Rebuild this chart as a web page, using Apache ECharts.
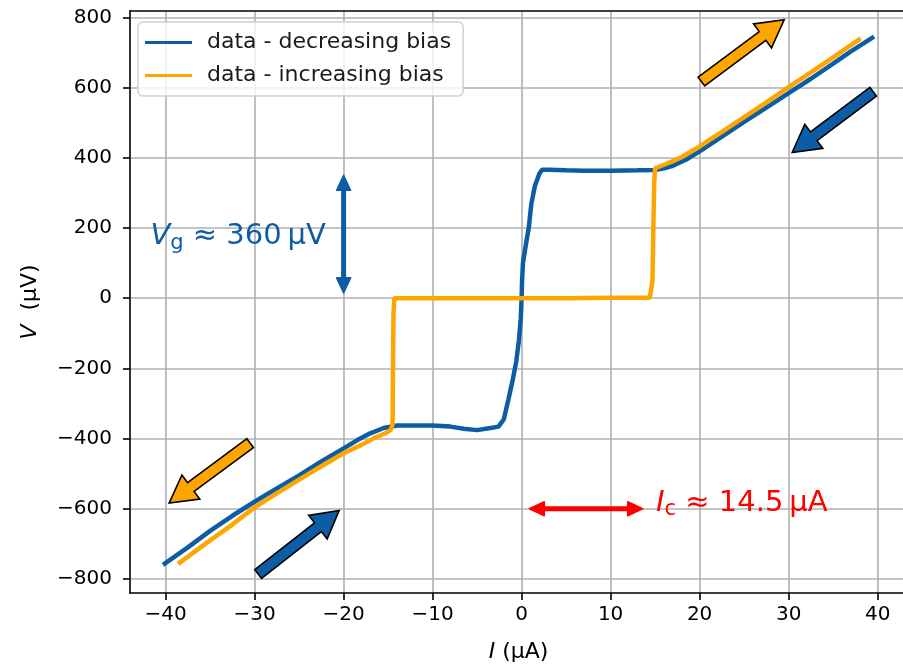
<!DOCTYPE html>
<html>
<head>
<meta charset="utf-8">
<title>I-V hysteresis</title>
<script src="https://cdn.jsdelivr.net/npm/echarts@6/dist/echarts.min.js"></script>
<style>
    html, body { margin: 0; padding: 0; background: #fff; overflow: hidden; }
    #chart { width: 920px; height: 666px; }
</style>
</head>
<body>
<div id="chart"></div>
<script>
// decreasing bias sweep (I in uA, V in uV)
const decreasingI = [39.6, 37, 35, 32.5, 30, 27.5, 25, 22.5, 20, 18.5, 17, 16, 15, 13, 10, 7, 5, 3, 2.3,
    2.0, 1.5, 1.1, 0.8, 0.4, 0.15, 0.05, 0, -0.1, -0.3, -0.6, -1.0, -1.5, -2.0, -2.6, -3.5, -5, -6.5, -8,
    -10, -12, -14, -15.5, -17, -18.5, -20, -22.5, -25, -27.5, -30, -32.5, -35, -37.5, -40.3];
const decreasingV = [745, 703, 668, 625, 584, 543, 502, 460, 418, 395, 377, 370, 365, 364, 363, 363, 364, 366, 366,
    355, 320, 270, 200, 140, 100, 50, 0, -60, -120, -180, -233, -290, -345, -366, -370, -376, -372, -366,
    -363, -363, -363, -370, -385, -405, -428, -465, -505, -542, -580, -620, -663, -710, -760];

// increasing bias sweep
const increasingI = [-38.6, -35, -32.5, -30, -27.5, -25, -22.5, -20, -18, -16.5, -15.3, -14.7, -14.5, -14.45,
    -14.4, -14.3, -10, -5, 0, 5, 10, 14.4, 14.7, 14.8, 14.9, 15.0, 16.5, 18, 20, 22.5, 25, 27.5, 30, 32.5, 35, 38.1];
const increasingV = [-757, -690, -645, -596, -556, -517, -479, -442, -418, -398, -385, -375, -360, -200,
    -50, 0, 0, 0, 0, 0, 1, 1, 50, 200, 330, 370, 385, 402, 432, 474, 516, 558, 601, 643, 686, 740];

const xTicks = [-40, -30, -20, -10, 0, 10, 20, 30, 40];
const yTicks = [-800, -600, -400, -200, 0, 200, 400, 600, 800];

// sweep direction arrows: [tail, tip] in data coordinates
const sweepArrowsOrange = [[[20.2, 617], [29.5, 793]], [[-30.5, -413], [-39.6, -584]]];
const sweepArrowsBlue = [[[39.5, 588], [30.4, 415]], [[-29.6, -786], [-20.5, -605]]];
const gapArrow = [[-20, 350], [-20, 15]];
const currentArrow = [[0.87, -600], [13.6, -600]];
const gapLabelAt = [-22.0, 175];
const currentLabelAt = [15.1, -585];

const FONT = 'DejaVu Sans';
const BLUE = '#0c5da5';
const ORANGE = '#ffa500';
const RED = '#ff0000';

function zip(a, b) {
    return a.map(function (v, i) { return [v, b[i]]; });
}

function tickText(v) {
    return v < 0 ? '\u2212' + (-v) : String(v);
}

const chart = echarts.init(document.getElementById('chart'));

const axisLineStyle = { color: '#000', width: 1.6 };
const mathRich = {
    i: { fontFamily: FONT, fontSize: 22, fontStyle: 'italic', color: '#000' },
    t: { fontFamily: FONT, fontSize: 22, color: '#000' }
};

chart.setOption({
    animation: false,
    grid: { left: 130, top: 11, width: 777, height: 582, outerBoundsMode: 'none' },
    legend: {
        orient: 'vertical',
        left: 138,
        top: 22,
        padding: [8, 12, 8, 7],
        itemGap: 8,
        itemWidth: 47,
        itemHeight: 3,
        icon: 'rect',
        backgroundColor: 'rgba(255,255,255,0.8)',
        borderColor: '#d0d0d0',
        borderWidth: 1.5,
        borderRadius: 5,
        textStyle: { fontFamily: FONT, fontSize: 22, lineHeight: 25, color: '#1a1a1a', padding: [0, 0, 0, 10] },
        data: ['data - decreasing bias', 'data - increasing bias']
    },
    xAxis: [{
        type: 'value',
        min: -44,
        max: 43.3,
        splitNumber: 9,
        axisLine: { show: true, onZero: false, lineStyle: axisLineStyle },
        axisTick: { show: true, length: 7, lineStyle: axisLineStyle, customValues: xTicks },
        axisLabel: { customValues: xTicks, formatter: tickText, fontFamily: FONT, fontSize: 20, color: '#000', margin: 12 },
        splitLine: { show: true, lineStyle: { color: '#b0b0b0', width: 1.6 } },
        name: '{i|I}{t| (μA)}',
        nameLocation: 'middle',
        nameGap: 48,
        nameTextStyle: { rich: mathRich }
    }, {
        type: 'value',
        position: 'top',
        min: -44,
        max: 43.3,
        axisLine: { show: true, onZero: false, lineStyle: axisLineStyle },
        axisTick: { show: false },
        axisLabel: { show: false },
        splitLine: { show: false }
    }],
    yAxis: {
        type: 'value',
        min: -840,
        max: 818,
        splitNumber: 8,
        axisLine: { show: true, onZero: false, lineStyle: axisLineStyle },
        axisTick: { show: true, length: 7, lineStyle: axisLineStyle, customValues: yTicks },
        axisLabel: { customValues: yTicks, formatter: tickText, fontFamily: FONT, fontSize: 20, color: '#000', margin: 18 },
        splitLine: { show: true, lineStyle: { color: '#b0b0b0', width: 1.6 } },
        name: '{i|V}{t|  (μV)}',
        nameLocation: 'middle',
        nameGap: 89,
        nameTextStyle: { rich: mathRich }
    },
    series: [{
        name: 'data - decreasing bias',
        type: 'line',
        symbol: 'none',
        xAxisIndex: 0,
        lineStyle: { color: BLUE, width: 4.5 },
        itemStyle: { color: BLUE },
        data: zip(decreasingI, decreasingV)
    }, {
        name: 'data - increasing bias',
        type: 'line',
        symbol: 'none',
        xAxisIndex: 0,
        lineStyle: { color: ORANGE, width: 4.5 },
        itemStyle: { color: ORANGE },
        data: zip(increasingI, increasingV)
    }]
});

function toPx(p) {
    return chart.convertToPixel({ xAxisIndex: 0, yAxisIndex: 0 }, p);
}

// block arrow with a black outline, like matplotlib's fancy arrow
function blockArrow(tail, tip, color) {
    const a = toPx(tail), b = toPx(tip);
    const dx = b[0] - a[0], dy = b[1] - a[1];
    const len = Math.sqrt(dx * dx + dy * dy);
    const ux = dx / len, uy = dy / len, nx = -uy, ny = ux;
    const sw = 5.5, hw = 15, hl = 27;
    const bx = b[0] - ux * hl, by = b[1] - uy * hl;
    return {
        type: 'polygon',
        z: 100,
        shape: {
            points: [
                [a[0] + nx * sw, a[1] + ny * sw], [bx + nx * sw, by + ny * sw], [bx + nx * hw, by + ny * hw],
                [b[0], b[1]],
                [bx - nx * hw, by - ny * hw], [bx - nx * sw, by - ny * sw], [a[0] - nx * sw, a[1] - ny * sw]
            ]
        },
        style: { fill: color, stroke: '#000', lineWidth: 1.6 }
    };
}

// thin double-headed arrow
function doubleArrow(p0, p1, color) {
    const a = toPx(p0), b = toPx(p1);
    const dx = b[0] - a[0], dy = b[1] - a[1];
    const len = Math.sqrt(dx * dx + dy * dy);
    const ux = dx / len, uy = dy / len, nx = -uy, ny = ux;
    const hw = 7, hl = 15;
    function head(tip, dir) {
        const bx = tip[0] - dir * ux * hl, by = tip[1] - dir * uy * hl;
        return {
            type: 'polygon', z: 100,
            shape: { points: [[tip[0], tip[1]], [bx + nx * hw, by + ny * hw], [bx - nx * hw, by - ny * hw]] },
            style: { fill: color, stroke: color, lineWidth: 1.5, lineJoin: 'round' }
        };
    }
    return [{
        type: 'line', z: 100,
        shape: { x1: a[0] + ux * 8, y1: a[1] + uy * 8, x2: b[0] - ux * 8, y2: b[1] - uy * 8 },
        style: { stroke: color, lineWidth: 5 }
    }, head(b, 1), head(a, -1)];
}

function mathLabel(at, main, sub, rest, color, align) {
    const p = toPx(at);
    return {
        type: 'text', z: 100,
        x: p[0], y: p[1],
        style: {
            text: '{v|' + main + '}{s|' + sub + '}{t|' + rest + '}',
            align: align,
            verticalAlign: 'middle',
            rich: {
                v: { fontFamily: FONT, fontSize: 29, fontStyle: 'italic', fill: color, lineHeight: 34 },
                s: { fontFamily: FONT, fontSize: 21, fill: color, lineHeight: 16, verticalAlign: 'bottom' },
                t: { fontFamily: FONT, fontSize: 29, fill: color, lineHeight: 34 }
            }
        }
    };
}

const elements = [];
sweepArrowsOrange.forEach(function (ar) { elements.push(blockArrow(ar[0], ar[1], ORANGE)); });
sweepArrowsBlue.forEach(function (ar) { elements.push(blockArrow(ar[0], ar[1], BLUE)); });
doubleArrow(gapArrow[0], gapArrow[1], BLUE).forEach(function (e) { elements.push(e); });
doubleArrow(currentArrow[0], currentArrow[1], RED).forEach(function (e) { elements.push(e); });
elements.push(mathLabel(gapLabelAt, 'V', 'g', ' \u2248 360\u2009\u03bcV', BLUE, 'right'));
elements.push(mathLabel(currentLabelAt, 'I', 'c', ' \u2248 14.5\u2009\u03bcA', RED, 'left'));

chart.setOption({ graphic: { elements: elements } });
</script>
</body>
</html>
